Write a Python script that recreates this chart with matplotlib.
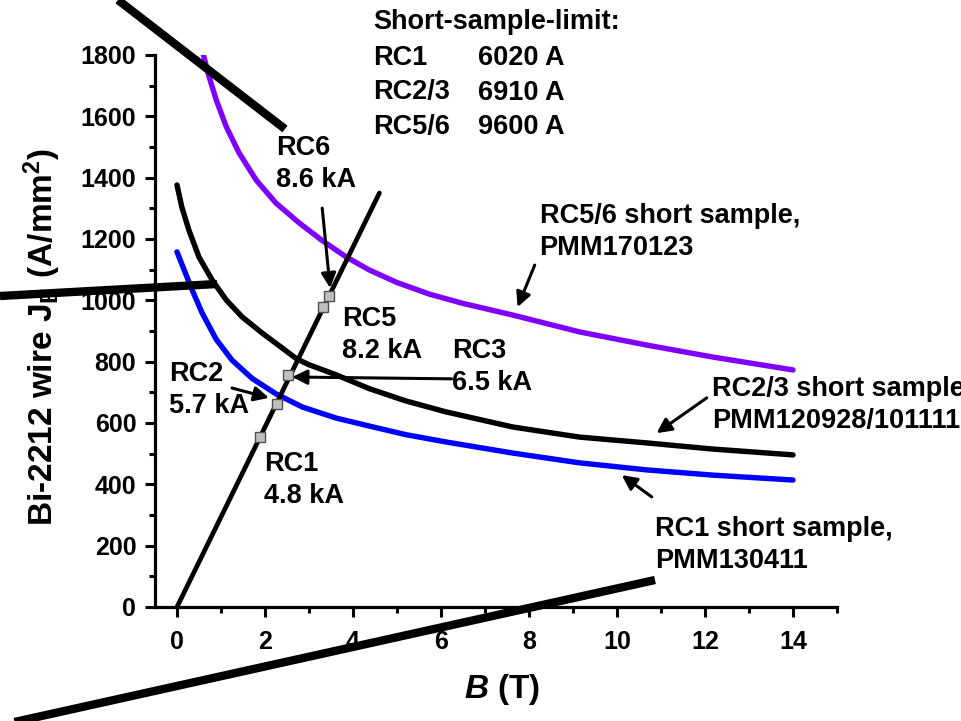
import matplotlib
matplotlib.use('Agg')
import matplotlib.pyplot as plt
from matplotlib.lines import Line2D

plt.rcParams['font.family'] = ['Liberation Sans', 'DejaVu Sans']
plt.rcParams['font.weight'] = 'bold'
plt.rcParams['axes.labelweight'] = 'bold'
plt.rcParams['mathtext.fontset'] = 'custom'
plt.rcParams['mathtext.rm'] = 'Liberation Sans:bold'
plt.rcParams['mathtext.bf'] = 'Liberation Sans:bold'
plt.rcParams['mathtext.it'] = 'Liberation Sans:bold:italic'

# RC5/6 short sample, PMM170123
b_rc56 = [0.60, 0.73, 0.89, 1.12, 1.41, 1.80, 2.25, 2.78, 3.30, 3.85, 4.37, 5.00, 5.74, 6.50,
          7.63, 9.15, 10.68, 12.18, 14.0]
je_rc56 = [1800, 1729, 1654, 1566, 1481, 1392, 1317, 1252, 1195, 1141, 1099, 1058, 1020, 990,
           952, 897, 854, 815, 773]

# RC2/3 short sample, PMM120928/101111
b_rc23 = [0.0, 0.11, 0.27, 0.50, 0.80, 1.12, 1.48, 1.93, 2.48, 2.71, 3.00, 3.62, 4.37, 5.20,
          6.12, 7.63, 9.15, 10.68, 12.18, 14.0]
je_rc23 = [1376, 1304, 1229, 1141, 1066, 1001, 946, 894, 835, 810, 790, 757, 712, 672,
           636, 587, 554, 535, 515, 496]

# RC1 short sample, PMM130411
b_rc1 = [0.0, 0.16, 0.34, 0.57, 0.89, 1.25, 1.71, 2.25, 2.85, 3.62, 4.37, 5.20, 6.12, 7.63,
         9.15, 10.68, 12.18, 14.0]
je_rc1 = [1158, 1100, 1035, 959, 873, 805, 745, 695, 652, 616, 590, 562, 538, 502,
          470, 447, 430, 414]

# load line and operating points
b_load = [0.0, 4.6]
je_load = [0, 1350]
b_coils = [1.89, 2.28, 2.53, 3.32, 3.46]
je_coils = [554, 662, 757, 978, 1014]

limit_names = ['RC1', 'RC2/3', 'RC5/6']
limit_values = ['6020 A', '6910 A', '9600 A']

W, H = 961, 721
fig = plt.figure(figsize=(W / 100, H / 100), dpi=100)
ax = fig.add_axes([155 / W, 1 - 607 / H, 682 / W, 552 / H])

ax.plot(b_rc56, je_rc56, color='#8000ff', lw=3.9, solid_capstyle='round', solid_joinstyle='round', zorder=3)
ax.plot(b_rc23, je_rc23, color='black', lw=3.9, solid_capstyle='round', solid_joinstyle='round', zorder=3)
ax.plot(b_rc1, je_rc1, color='#0000ff', lw=3.9, solid_capstyle='round', solid_joinstyle='round', zorder=3)
ax.plot(b_load, je_load, color='black', lw=3.4, solid_capstyle='round', zorder=4)
ax.plot(b_coils, je_coils, ls='none', marker='s', ms=7.5, mfc='#c0c0c0', mec='#505050', mew=1.0, zorder=5)

ax.set_xlim(-0.5, 15)
ax.set_ylim(0, 1800)
ax.set_xticks(range(0, 15, 2))
ax.set_xticks(range(1, 16, 2), minor=True)
ax.set_yticks(range(0, 1801, 200))
ax.set_yticks(range(100, 1800, 200), minor=True)
for s in ['top', 'right']:
    ax.spines[s].set_visible(False)
for s in ['left', 'bottom']:
    ax.spines[s].set_linewidth(2.3)
ax.tick_params(which='major', length=7.5, width=2.2, labelsize=18, pad=6)
ax.tick_params(which='minor', length=4, width=2.2)
ax.tick_params(axis='x', which='major', pad=9)

ax.set_xlabel(r'$\mathit{B}$ (T)', fontsize=24, va='center')
ax.xaxis.set_label_coords(0.509, -0.15)
ax.set_ylabel(r'Bi-2212 wire $\mathrm{J}_\mathrm{E}$ (A/mm$^\mathrm{2}$)', fontsize=24, va='center')
ax.yaxis.set_label_coords(-0.165, 0.49)

labels = [
    (2.25, 1445, 'RC6\n8.6 kA'),
    (3.76, 887, 'RC5\n8.2 kA'),
    (6.26, 782, 'RC3\n6.5 kA'),
    (-0.18, 707, 'RC2\n5.7 kA'),
    (1.98, 414, 'RC1\n4.8 kA'),
    (8.24, 1223, 'RC5/6 short sample,\nPMM170123'),
    (12.16, 659, 'RC2/3 short sample,\nPMM120928/101111'),
    (10.86, 202, 'RC1 short sample,\nPMM130411'),
]
for x, y, t in labels:
    ax.text(x, y, t, fontsize=19.5, ha='left', va='center', linespacing=1.3, clip_on=False)

arrows = [
    ((3.30, 1301), (3.48, 1040)),
    ((6.24, 744), (2.62, 750)),
    ((1.25, 714), (2.09, 682)),
    ((8.13, 1115), (7.74, 978)),
    ((12.04, 682), (10.90, 567)),
    ((10.79, 359), (10.11, 430)),
]
for tail, tip in arrows:
    ax.annotate('', xy=tip, xytext=tail,
                arrowprops=dict(arrowstyle='-|>', lw=2.2, color='black', mutation_scale=22,
                                shrinkA=0, shrinkB=0), zorder=6)

# table of short-sample limits
fig.text(373 / W, 1 - 22 / H, 'Short-sample-limit:', fontsize=19.5, ha='left', va='center')
for i, (n, v) in enumerate(zip(limit_names, limit_values)):
    yy = 1 - (58 + 34.5 * i) / H
    fig.text(373 / W, yy, n, fontsize=19.5, ha='left', va='center')
    fig.text(478 / W, yy, v, fontsize=19.5, ha='left', va='center')

# stray thick strokes present in the original figure
strokes = [((118, 0), (285, 129)), ((0, 296), (217, 284)), ((10, 723), (655, 580))]
for (x0, y0), (x1, y1) in strokes:
    fig.add_artist(Line2D([x0 / W, x1 / W], [1 - y0 / H, 1 - y1 / H], transform=fig.transFigure,
                          color='black', lw=6, solid_capstyle='butt', zorder=10))

fig.savefig('out.png', dpi=100)
